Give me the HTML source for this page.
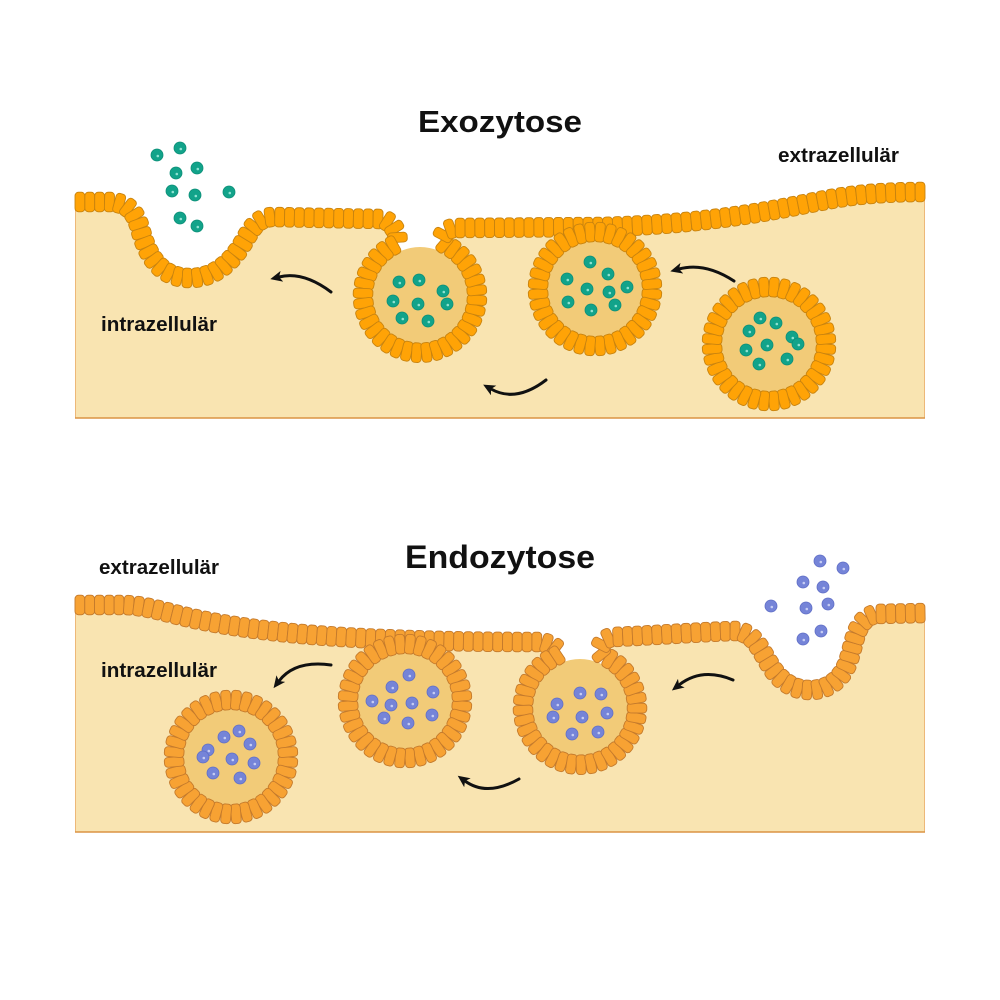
<!DOCTYPE html>
<html>
<head>
<meta charset="utf-8">
<style>
  html,body{margin:0;padding:0;background:#ffffff;}
  svg{display:block;}
  .t{font-family:"Liberation Sans",sans-serif;font-weight:bold;fill:#111111;}
</style>
</head>
<body>
<svg width="1000" height="1000" viewBox="0 0 1000 1000" xmlns="http://www.w3.org/2000/svg">
  <defs>
    <marker id="ah" markerUnits="userSpaceOnUse" viewBox="0 0 12 11" refX="3" refY="5.5" markerWidth="12" markerHeight="11" orient="auto">
      <path d="M0,0 L12,5.5 L0,11 L3,5.5 Z" fill="#111"/>
    </marker>
    <g id="tp">
      <circle r="6" fill="#12A38A" stroke="#0C8E77" stroke-width="0.8"/>
      <circle cx="0.8" cy="1" r="1.3" fill="#8EE2D2"/>
    </g>
    <g id="bp">
      <circle r="6" fill="#7584D8" stroke="#5F6EC6" stroke-width="0.8"/>
      <circle cx="0.8" cy="1" r="1.3" fill="#C6CDF4"/>
    </g>
  </defs>

  <!-- ================= TOP PANEL ================= -->
  <path d="M 75 202 L 108 202 C 128 202 135 212 140 228 C 147 255 160 278 190 278 C 215 278 230 262 240 248 C 250 232 255 218 272 217 L 380 219 C 393 219 403 240 394 245 A 57 57 0 1 0 446 245 C 437 240 444 228 456 228 L 600 227 C 680 225 740 217 800 205 C 840 197 865 192 925 192 L 925 418 L 75 418 Z" fill="#F9E4B1"/>
  <line x1="75.5" y1="202" x2="75.5" y2="418" stroke="#EDB878" stroke-width="1"/>
  <line x1="924.5" y1="192" x2="924.5" y2="418" stroke="#EDB878" stroke-width="1"/>
  <line x1="75" y1="418" x2="925" y2="418" stroke="#DB9444" stroke-width="1.6"/>
  <circle cx="420" cy="296" r="49" fill="#F2CB78"/>
  <g class="memg tp" fill="none" stroke-linejoin="round">
    <path class="geo" d="M 75 202 L 108 202 C 128 202 135 212 140 228 C 147 255 160 278 190 278 C 215 278 230 262 240 248 C 250 232 255 218 272 217 L 380 219 C 393 219 403 240 394 245 A 57 57 0 1 0 446 245 C 437 240 444 228 456 228 L 600 227 C 680 225 740 217 800 205 C 840 197 865 192 925 192" stroke="#C8830F" stroke-width="20"/>
    <path d="M 75 202 L 108 202 C 128 202 135 212 140 228 C 147 255 160 278 190 278 C 215 278 230 262 240 248 C 250 232 255 218 272 217 L 380 219 C 393 219 403 240 394 245 A 57 57 0 1 0 446 245 C 437 240 444 228 456 228 L 600 227 C 680 225 740 217 800 205 C 840 197 865 192 925 192" stroke="#FFA306" stroke-width="17" stroke-dasharray="8.3 1.7"/>
  </g>
  <!-- vesicle 2 -->
  <circle cx="595" cy="289" r="49" fill="#F2CB78"/>
  <g class="memg tp ring" fill="none">
    <circle class="geo" cx="595" cy="289" r="57" stroke="#C8830F" stroke-width="20"/>
    <circle cx="595" cy="289" r="57" stroke="#FFA306" stroke-width="17" pathLength="36" stroke-dasharray="0.83 0.17"/>
  </g>
  <!-- vesicle 3 -->
  <circle cx="769" cy="344" r="49" fill="#F2CB78"/>
  <g class="memg tp ring" fill="none">
    <circle class="geo" cx="769" cy="344" r="57" stroke="#C8830F" stroke-width="20"/>
    <circle cx="769" cy="344" r="57" stroke="#FFA306" stroke-width="17" pathLength="36" stroke-dasharray="0.83 0.17"/>
  </g>

  <!-- teal particles -->
  <use href="#tp" x="157" y="155"/><use href="#tp" x="180" y="148"/><use href="#tp" x="176" y="173"/>
  <use href="#tp" x="197" y="168"/><use href="#tp" x="172" y="191"/><use href="#tp" x="195" y="195"/>
  <use href="#tp" x="229" y="192"/><use href="#tp" x="180" y="218"/><use href="#tp" x="197" y="226"/>

  <use href="#tp" x="399" y="282"/><use href="#tp" x="419" y="280"/><use href="#tp" x="443" y="291"/>
  <use href="#tp" x="393" y="301"/><use href="#tp" x="418" y="304"/><use href="#tp" x="447" y="304"/>
  <use href="#tp" x="402" y="318"/><use href="#tp" x="428" y="321"/>

  <use href="#tp" x="590" y="262"/><use href="#tp" x="608" y="274"/><use href="#tp" x="567" y="279"/>
  <use href="#tp" x="587" y="289"/><use href="#tp" x="609" y="292"/><use href="#tp" x="627" y="287"/>
  <use href="#tp" x="568" y="302"/><use href="#tp" x="591" y="310"/><use href="#tp" x="615" y="305"/>

  <use href="#tp" x="760" y="318"/><use href="#tp" x="776" y="323"/><use href="#tp" x="749" y="331"/>
  <use href="#tp" x="792" y="337"/><use href="#tp" x="798" y="344"/><use href="#tp" x="767" y="345"/>
  <use href="#tp" x="746" y="350"/><use href="#tp" x="787" y="359"/><use href="#tp" x="759" y="364"/>

  <g fill="none" stroke="#111" stroke-width="3" stroke-linecap="round">
    <path d="M 331 292 Q 303 271 279 277" marker-end="url(#ah)"/>
    <path d="M 734 281 Q 705 262 679 269" marker-end="url(#ah)"/>
    <path d="M 546 380 Q 516 403 491 389" marker-end="url(#ah)"/>
  </g>

  <text class="t" x="418" y="132" font-size="31" textLength="164" lengthAdjust="spacingAndGlyphs">Exozytose</text>
  <text class="t" x="778" y="162" font-size="20" textLength="121" lengthAdjust="spacingAndGlyphs">extrazellulär</text>
  <text class="t" x="101" y="331" font-size="20" textLength="116" lengthAdjust="spacingAndGlyphs">intrazellulär</text>

  <!-- ================= BOTTOM PANEL ================= -->
  <path d="M 75 605 L 125 605 C 150 606 170 614 200 620 C 230 626 280 634 360 638 C 420 641 480 642 538 642 C 550 642 565 652 556 656 A 57 57 0 1 0 604 656 C 595 652 602 637 614 637 C 660 635 700 632 735 631 C 755 632 760 650 772 668 C 782 683 795 690 810 690 C 830 690 842 678 848 662 C 855 642 855 620 875 614 L 925 613 L 925 832 L 75 832 Z" fill="#F9E4B1"/>
  <line x1="75.5" y1="605" x2="75.5" y2="832" stroke="#EDB878" stroke-width="1"/>
  <line x1="924.5" y1="613" x2="924.5" y2="832" stroke="#EDB878" stroke-width="1"/>
  <line x1="75" y1="832" x2="925" y2="832" stroke="#DB9444" stroke-width="1.6"/>
  <circle cx="580" cy="708" r="49" fill="#F2CB78"/>
  <g class="memg bt" fill="none" stroke-linejoin="round">
    <path class="geo" d="M 75 605 L 125 605 C 150 606 170 614 200 620 C 230 626 280 634 360 638 C 420 641 480 642 538 642 C 550 642 565 652 556 656 A 57 57 0 1 0 604 656 C 595 652 602 637 614 637 C 660 635 700 632 735 631 C 755 632 760 650 772 668 C 782 683 795 690 810 690 C 830 690 842 678 848 662 C 855 642 855 620 875 614 L 925 613" stroke="#C47A2C" stroke-width="20"/>
    <path d="M 75 605 L 125 605 C 150 606 170 614 200 620 C 230 626 280 634 360 638 C 420 641 480 642 538 642 C 550 642 565 652 556 656 A 57 57 0 1 0 604 656 C 595 652 602 637 614 637 C 660 635 700 632 735 631 C 755 632 760 650 772 668 C 782 683 795 690 810 690 C 830 690 842 678 848 662 C 855 642 855 620 875 614 L 925 613" stroke="#F7A233" stroke-width="17" stroke-dasharray="8.3 1.7"/>
  </g>
  <!-- vesicle B2 -->
  <circle cx="405" cy="701" r="49" fill="#F2CB78"/>
  <g class="memg bt ring" fill="none">
    <circle class="geo" cx="405" cy="701" r="57" stroke="#C47A2C" stroke-width="20"/>
    <circle cx="405" cy="701" r="57" stroke="#F7A233" stroke-width="17" pathLength="36" stroke-dasharray="0.83 0.17"/>
  </g>
  <!-- vesicle B3 -->
  <circle cx="231" cy="757" r="49" fill="#F2CB78"/>
  <g class="memg bt ring" fill="none">
    <circle class="geo" cx="231" cy="757" r="57" stroke="#C47A2C" stroke-width="20"/>
    <circle cx="231" cy="757" r="57" stroke="#F7A233" stroke-width="17" pathLength="36" stroke-dasharray="0.83 0.17"/>
  </g>

  <!-- blue particles -->
  <use href="#bp" x="820" y="561"/><use href="#bp" x="843" y="568"/><use href="#bp" x="803" y="582"/>
  <use href="#bp" x="823" y="587"/><use href="#bp" x="771" y="606"/><use href="#bp" x="806" y="608"/>
  <use href="#bp" x="828" y="604"/><use href="#bp" x="821" y="631"/><use href="#bp" x="803" y="639"/>

  <use href="#bp" x="580" y="693"/><use href="#bp" x="601" y="694"/><use href="#bp" x="557" y="704"/>
  <use href="#bp" x="553" y="717"/><use href="#bp" x="582" y="717"/><use href="#bp" x="607" y="713"/>
  <use href="#bp" x="572" y="734"/><use href="#bp" x="598" y="732"/>

  <use href="#bp" x="409" y="675"/><use href="#bp" x="392" y="687"/><use href="#bp" x="433" y="692"/>
  <use href="#bp" x="372" y="701"/><use href="#bp" x="391" y="705"/><use href="#bp" x="412" y="703"/>
  <use href="#bp" x="432" y="715"/><use href="#bp" x="384" y="718"/><use href="#bp" x="408" y="723"/>

  <use href="#bp" x="239" y="731"/><use href="#bp" x="224" y="737"/><use href="#bp" x="250" y="744"/>
  <use href="#bp" x="208" y="750"/><use href="#bp" x="203" y="757"/><use href="#bp" x="232" y="759"/>
  <use href="#bp" x="254" y="763"/><use href="#bp" x="213" y="773"/><use href="#bp" x="240" y="778"/>

  <g fill="none" stroke="#111" stroke-width="3" stroke-linecap="round">
    <path d="M 331 665 Q 295 660 279 681" marker-end="url(#ah)"/>
    <path d="M 733 680 Q 702 667 679 685" marker-end="url(#ah)"/>
    <path d="M 519 779 Q 487 797 465 781" marker-end="url(#ah)"/>
  </g>

  <text class="t" x="405" y="568" font-size="32" textLength="190" lengthAdjust="spacingAndGlyphs">Endozytose</text>
  <text class="t" x="99" y="574" font-size="20" textLength="120" lengthAdjust="spacingAndGlyphs">extrazellulär</text>
  <text class="t" x="101" y="677" font-size="20" textLength="116" lengthAdjust="spacingAndGlyphs">intrazellulär</text>
</svg>
<script>
(function(){
  try{
    var ns="http://www.w3.org/2000/svg";
    var gs=document.querySelectorAll('g.memg');
    for(var k=0;k<gs.length;k++){
      try{
        var g=gs[k];
        var geo=g.querySelector('.geo');
        var isTop=g.classList.contains('tp');
        var fc=isTop?'#FFA306':'#F7A233', sc=isTop?'#C8830F':'#C47A2C';
        var L=geo.getTotalLength();
        if(!(L>0)) continue;
        var n=g.classList.contains('ring')?36:Math.round(L/9.8);
        var pitch=L/n;
        var bg=document.createElementNS(ns,'g');
        for(var i=0;i<n;i++){
          var s=(i+0.5)*pitch;
          var a=geo.getPointAtLength(Math.max(0,s-1.5));
          var b=geo.getPointAtLength(Math.min(L,s+1.5));
          var p=geo.getPointAtLength(s);
          var ang=Math.atan2(b.y-a.y,b.x-a.x)*180/Math.PI;
          var r=document.createElementNS(ns,'rect');
          r.setAttribute('x','-4.9');r.setAttribute('y','-9.8');
          r.setAttribute('width','9.8');r.setAttribute('height','19.6');
          r.setAttribute('rx','3.4');r.setAttribute('ry','3.6');
          r.setAttribute('fill',fc);r.setAttribute('stroke',sc);r.setAttribute('stroke-width','0.9');
          r.setAttribute('transform','translate('+p.x.toFixed(2)+','+p.y.toFixed(2)+') rotate('+ang.toFixed(2)+')');
          bg.appendChild(r);
        }
        if(n>5){
          var ch=g.children;
          for(var j=0;j<ch.length;j++){ ch[j].style.display='none'; }
          g.appendChild(bg);
        }
      }catch(e1){}
    }
  }catch(e){}
})();
</script>
</body>
</html>
